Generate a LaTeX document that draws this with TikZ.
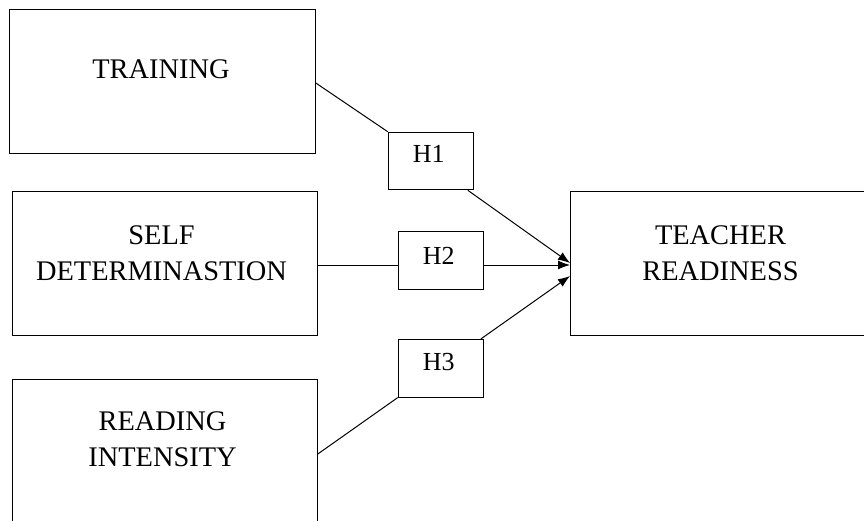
\documentclass[tikz,border=0pt]{standalone}
\usepackage{fontspec}
\setmainfont{Liberation Serif}
\usetikzlibrary{arrows.meta,calc}
\begin{document}
\begin{tikzpicture}[x=1pt,y=-1pt,
  bigbox/.style={draw=black,line width=1.1pt,rectangle,inner sep=0pt,anchor=north west,
    minimum width=#1,minimum height=144.3pt},
  hbox/.style={draw=black,line width=1.1pt,rectangle,inner sep=0pt,anchor=north west,
    minimum width=85pt,minimum height=57.5pt},
  bigtxt/.style={anchor=base,inner sep=0pt,font=\fontsize{28.4}{34}\selectfont},
  htxt/.style={anchor=base,inner sep=0pt,font=\fontsize{26}{30}\selectfont},
  conn/.style={draw=black,line width=1pt},
  arr/.style={conn,-{Latex[length=12pt,width=9pt]}}]
\path[use as bounding box,clip] (0,0) rectangle (864,521);
\fill[white] (0,0) rectangle (864,521);
% boxes
\node[bigbox=305.4pt] (training) at (9.3,9) {};
\node[bigbox=304.7pt] (self) at (12,191) {};
\node[bigbox=304.7pt] (reading) at (12,379.3) {};
\node[bigbox=302pt] (teacher) at (570,191) {};
\node[hbox] (H1) at (387.7,131.7) {};
\node[hbox] (H2) at (397.7,231) {};
\node[hbox] (H3) at (397.7,339) {};
% texts
\node[bigtxt] (t-training) at (161,78.3) {TRAINING};
\node[bigtxt] (t-self1) at (161.5,244.3) {SELF};
\node[bigtxt] (t-self2) at (161.5,280) {DETERMINASTION};
\node[bigtxt] (t-read1) at (162.5,430.7) {READING};
\node[bigtxt] (t-read2) at (162.5,466.7) {INTENSITY};
\node[bigtxt] (t-teach1) at (720.5,244) {TEACHER};
\node[bigtxt] (t-teach2) at (720.5,280) {READINESS};
\node[htxt] (t-h1) at (428.8,162.7) {H1};
\node[htxt] (t-h2) at (438.8,264.3) {H2};
\node[htxt] (t-h3) at (438.8,370) {H3};
% helper coordinates
\coordinate (y1) at (0,83);
\coordinate (y2) at (0,265);
\coordinate (y1t) at (0,263);
\coordinate (y3t) at (0,276);
\coordinate (y3s) at (0,454);
% connectors
\draw[conn] (training.east |- y1) -- (H1.north west);
\draw[arr] ($(H1.south east)+(-6,0)$) -- (teacher.west |- y1t);
\draw[conn] (self.east |- y2) -- (H2.west |- y2);
\draw[arr] (H2.east |- y2) -- (teacher.west |- y2);
\draw[conn] (reading.east |- y3s) -- (H3.south west);
\draw[arr] ($(H3.north east)+(-3,0)$) -- (teacher.west |- y3t);
\end{tikzpicture}
\end{document}
